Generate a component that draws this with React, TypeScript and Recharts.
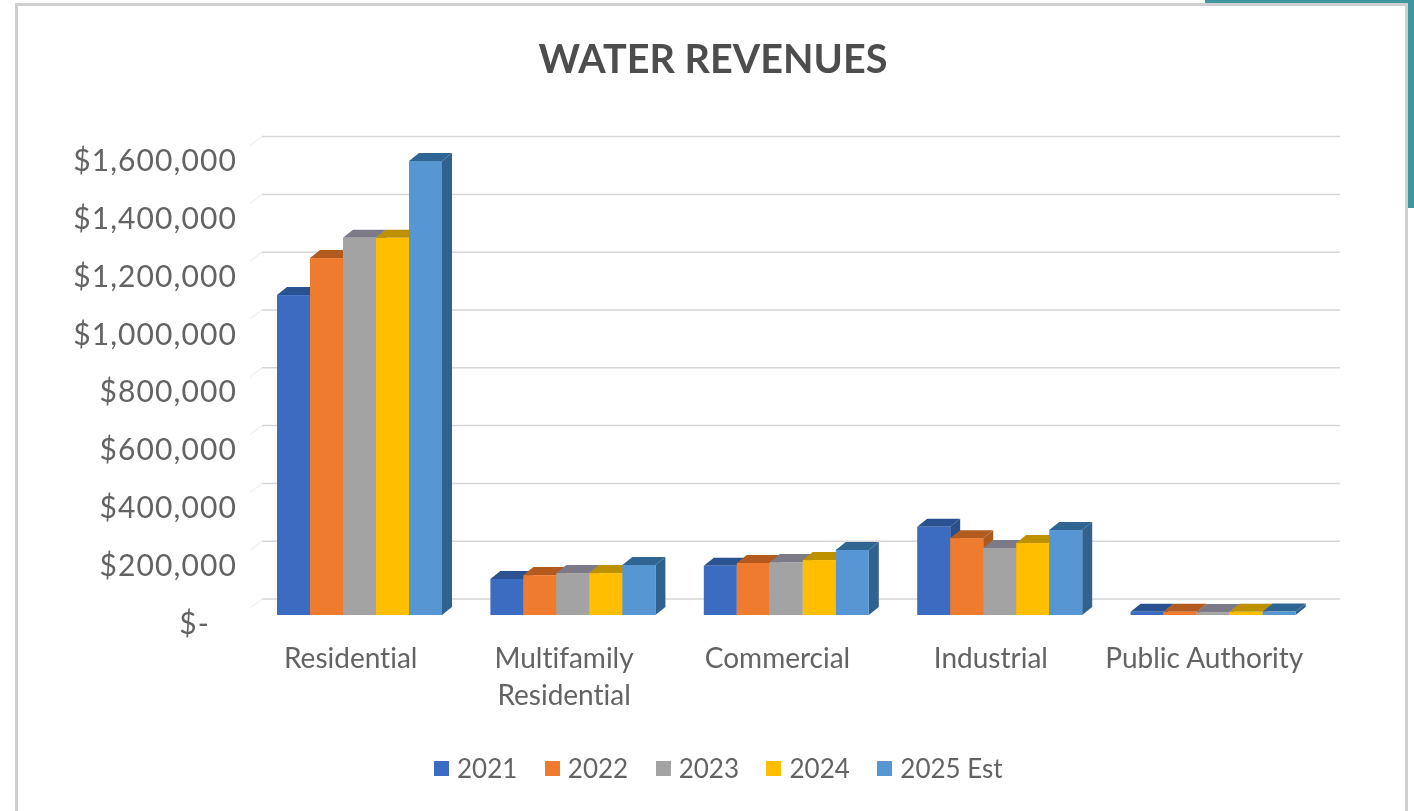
import React from 'react';
import { BarChart, Bar, XAxis, YAxis, CartesianGrid, Legend } from 'recharts';

const categories = ['Residential', 'Multifamily Residential', 'Commercial', 'Industrial', 'Public Authority'];
const values2021 = [1107000, 125000, 170000, 305000, 11000];
const values2022 = [1235000, 138000, 180000, 266000, 11000];
const values2023 = [1305000, 145000, 183000, 232000, 10000];
const values2024 = [1305000, 145000, 190000, 249000, 11000];
const values2025 = [1571000, 173000, 225000, 294000, 12000];
const yTicks = [0, 200000, 400000, 600000, 800000, 1000000, 1200000, 1400000, 1600000];

const series = [
  { key: 'y2021', name: '2021', values: values2021, color: '#3b6cc1', top: '#2a5190', side: '#2a4f8c' },
  { key: 'y2022', name: '2022', values: values2022, color: '#ee7b2e', top: '#b35a1f', side: '#ad5a20' },
  { key: 'y2023', name: '2023', values: values2023, color: '#a3a3a3', top: '#7d7a88', side: '#777777' },
  { key: 'y2024', name: '2024', values: values2024, color: '#ffbe00', top: '#bd9000', side: '#b88c00' },
  { key: 'y2025', name: '2025 Est', values: values2025, color: '#5596d3', top: '#2f6593', side: '#31628f' },
];

const data = categories.map((name, i) => {
  const row: any = { name };
  series.forEach((s) => { row[s.key] = s.values[i]; });
  return row;
});

const FONT = 'Lato, "Open Sans", sans-serif';
const TEXT = '#636363';
const DX = 10;
const DY = 8;
const WALL = 16;

const bar3d = (top: string, side: string) => (props: any) => {
  const { x, y, width, height, fill } = props;
  const r = x + width;
  const b = y + height;
  return (
    <g>
      <polygon points={`${x},${y} ${r},${y} ${r + DX},${y - DY} ${x + DX},${y - DY}`} fill={top} />
      <polygon points={`${r},${y} ${r + DX},${y - DY} ${r + DX},${b - DY} ${r},${b}`} fill={side} />
      <rect x={x} y={y} width={width} height={height} fill={fill} />
    </g>
  );
};

const gridLine = (props: any) => {
  const { x1, x2, y1, key } = props;
  const wy = y1 - WALL;
  return (
    <g key={key}>
      <line x1={x1 + 9} x2={x2 + 20} y1={wy} y2={wy} stroke="#d6d6d6" strokeWidth={1.5} />
      <line x1={x1 + 9} x2={x1 - 3} y1={wy} y2={wy + 9} stroke="#f1f1f1" strokeWidth={1.5} />
    </g>
  );
};

const YTick = (props: any) => {
  const { y, payload } = props;
  const zero = payload.value === 0;
  return (
    <text x={zero ? 210 : 237} y={y + 6.5} textAnchor="end" dominantBaseline="central"
      fontFamily={FONT} fontSize={30} letterSpacing={1.1} fill={TEXT}>
      {zero ? '$-' : '$' + payload.value.toLocaleString('en-US')}
    </text>
  );
};

const XTick = (props: any) => {
  const { x, payload } = props;
  const lines = payload.value === 'Multifamily Residential' ? payload.value.split(' ') : [payload.value];
  return (
    <text textAnchor="middle" fontFamily={FONT} fontSize={28} fill={TEXT} style={{ fontVariantLigatures: 'none' }}>
      {lines.map((l: string, i: number) => (
        <tspan key={l} x={x - 9} y={668 + i * 37}>{l}</tspan>
      ))}
    </text>
  );
};

const LegendRow = ({ payload }: any) => (
  <div style={{ display: 'flex', paddingLeft: 434, fontFamily: FONT, fontSize: 26, color: TEXT, lineHeight: '34px' }}>
    {(payload || []).map((p: any) => (
      <div key={p.value} style={{ display: 'flex', alignItems: 'center', marginRight: 27.5 }}>
        <span style={{ width: 15, height: 15, background: p.color, marginRight: 8, display: 'inline-block' }} />
        {p.value}
      </div>
    ))}
  </div>
);

export default function App() {
  return (
    <div style={{ position: 'absolute', left: 0, top: 0, width: 1414, height: 811, background: '#fff', overflow: 'hidden' }}>
      {/* frame round the slide, teal corner top right */}
      <div style={{ position: 'absolute', left: 1205, top: 0, width: 209, height: 3, background: '#3f96a1' }} />
      <div style={{ position: 'absolute', left: 1408, top: 0, width: 6, height: 208, background: '#3f96a1' }} />
      <div style={{ position: 'absolute', left: 15, top: 3, width: 1387, height: 808, borderTop: '3px solid #cfcfcf', borderLeft: '3px solid #cfcfcf', borderRight: '3px solid #cfcfcf', boxSizing: 'content-box' }} />
      <div style={{ position: 'absolute', left: 0, top: 0, width: 1414, height: 811, filter: 'blur(0.5px)' }}>
        <div style={{ position: 'absolute', left: 0, top: 34, width: 1426, textAlign: 'center', fontFamily: FONT, fontWeight: 700, fontSize: 39.6, color: '#4d4d4d' }}>
          WATER REVENUES
        </div>
        <BarChart width={1414} height={811} data={data} barGap={0} barCategoryGap={24}
          margin={{ top: 118.6, right: 94, bottom: 166, left: 0 }}>
          <CartesianGrid vertical={false} horizontal={gridLine} />
          <XAxis dataKey="name" axisLine={false} tickLine={false} tick={<XTick />} interval={0} />
          <YAxis width={253} domain={[0, 1600000]} ticks={yTicks} axisLine={false} tickLine={false} tick={<YTick />} />
          <Legend verticalAlign="top" content={<LegendRow />} wrapperStyle={{ top: 751, left: 0, width: 1414 }} />
          {series.map((s) => (
            <Bar key={s.key} dataKey={s.key} name={s.name} fill={s.color} isAnimationActive={false}
              shape={bar3d(s.top, s.side)} />
          ))}
        </BarChart>
      </div>
    </div>
  );
}
